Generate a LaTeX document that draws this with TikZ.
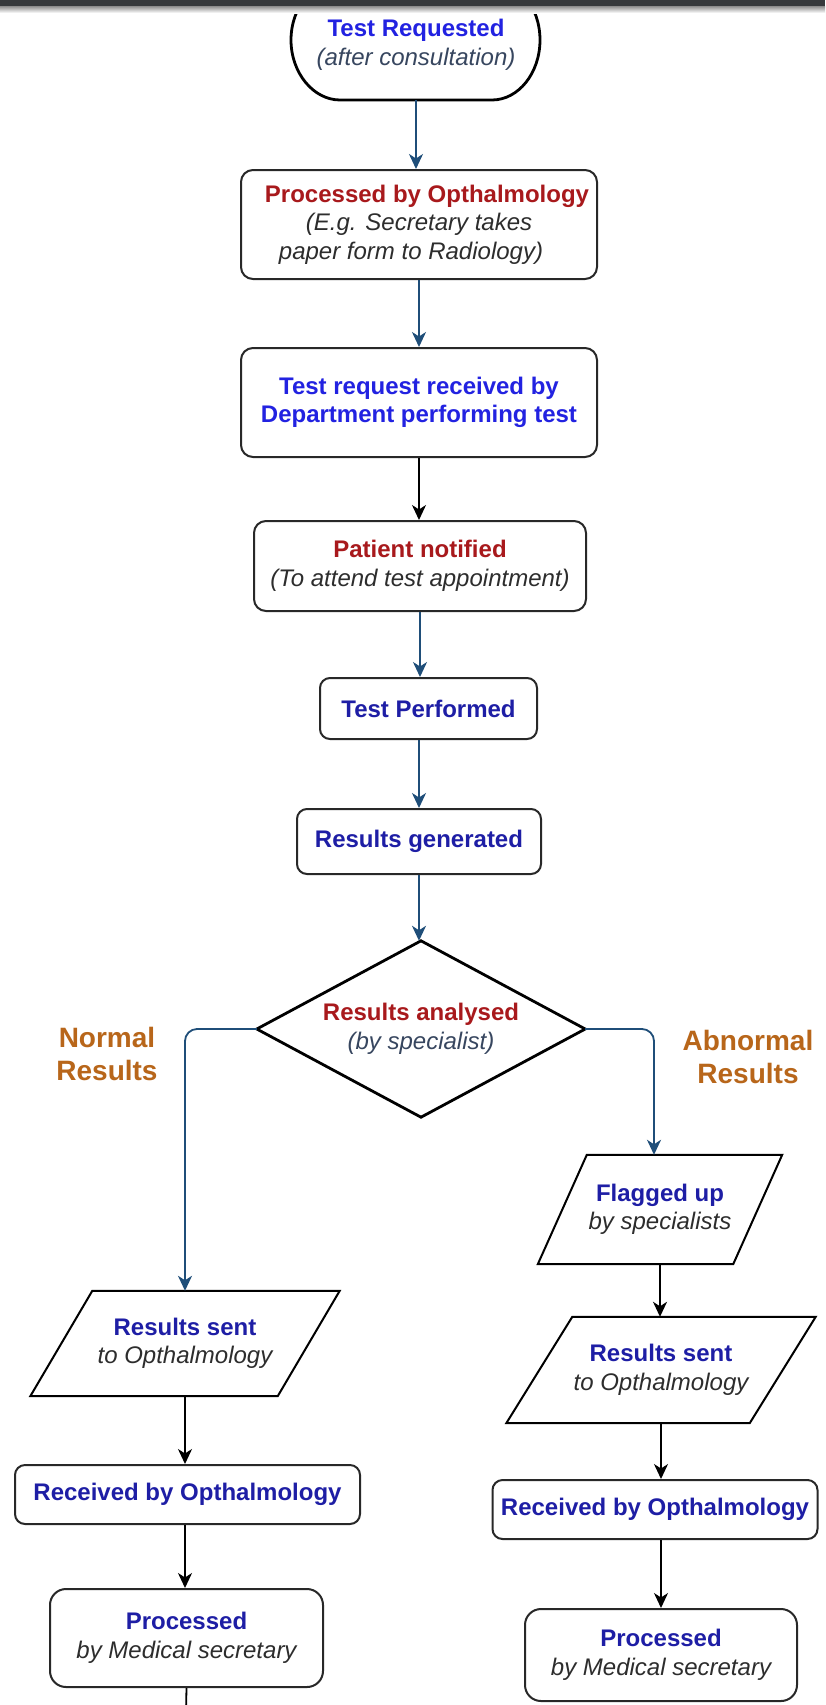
\documentclass[tikz,border=0pt]{standalone}
\usepackage{fontspec}
\setmainfont{Liberation Sans}
\usetikzlibrary{arrows.meta,calc}
\definecolor{navy}{RGB}{31,78,121}
\definecolor{tblue}{RGB}{34,34,225}
\definecolor{dblue}{RGB}{30,30,165}
\definecolor{tred}{RGB}{168,25,28}
\definecolor{tgray}{RGB}{45,45,45}
\definecolor{slate}{RGB}{55,70,95}
\definecolor{torange}{RGB}{184,102,26}
\definecolor{bord}{RGB}{40,40,40}
\definecolor{topbar}{RGB}{54,57,60}
\newcommand{\tit}[2]{{\bfseries\color{#1}#2}}
\newcommand{\sub}[2]{{\itshape\color{#1}#2}}
\tikzset{
  base/.style={font=\fontsize{24}{28.5}\selectfont, align=center, inner sep=0pt},
  rbox/.style={base, draw=bord, line width=2pt, rounded corners=12pt, fill=white},
  para/.style={base},
  parline/.style={draw=black, line width=2pt},
  tip/.style={-{Stealth[length=15pt,width=14pt,inset=4.5pt]}},
  nav/.style={draw=navy, line width=1.8pt, tip},
  blk/.style={draw=black, line width=1.8pt, tip},
  lbl/.style={font=\fontsize{28}{33}\selectfont\bfseries, text=torange, align=center, inner sep=0pt}
}
\begin{document}
\begin{tikzpicture}[x=1pt,y=-1pt]
\useasboundingbox (0,0) rectangle (825,1705);
\clip (0,0) rectangle (825,1705);
\fill[white] (0,0) rectangle (825,1705);

% terminal
\node[base, minimum width=249pt, minimum height=110pt] (start) at (416,45)
  {\tit{tblue}{Test Requested}\\\sub{slate}{(after consultation)}};
\draw[black, line width=2.8pt] (340,100) -- (492,100)
  .. controls (518.5,100) and (540,73) .. (540,40)
  .. controls (540,7) and (518.5,-20) .. (492,-20)
  -- (340,-20)
  .. controls (313.5,-20) and (291,7) .. (291,40)
  .. controls (291,73) and (313.5,100) .. (340,100) -- cycle;

% top bar
\fill[topbar] (0,0) rectangle (825,6);
\shade[top color=black!45, bottom color=white] (0,6) rectangle (825,13);

% main column
\node[rbox, minimum width=356pt, minimum height=109pt] (proc1) at (419,224.5)
  {\hspace*{16pt}\tit{tred}{Processed by Opthalmology}\\
   \sub{tgray}{(E.g. Secretary takes}\hspace*{16pt}\\
   \sub{tgray}{paper form to Radiology)}\hspace*{16pt}};
\node[rbox, minimum width=356pt, minimum height=109pt] (recv) at (419,402.5)
  {\tit{tblue}{Test request received by}\\\tit{tblue}{Department performing test}};
\node[rbox, minimum width=332pt, minimum height=90pt] (notif) at (420,566)
  {\tit{tred}{Patient notified}\\\sub{tgray}{(To attend test appointment)}};
\node[rbox, rounded corners=10pt, minimum width=217pt, minimum height=61pt] (perf) at (428.5,708.5)
  {\tit{dblue}{Test Performed}};
\node[rbox, rounded corners=10pt, minimum width=244pt, minimum height=65pt] (resgen) at (419,841.5)
  {\tit{dblue}{Results generated}};

% decision
\node[base, minimum width=328pt, minimum height=176pt] (dia) at (421,1029)
  {\tit{tred}{Results analysed}\\\sub{slate}{(by specialist)}};
\draw[black, line width=2.8pt, line join=miter] (dia.north) -- (dia.east) -- (dia.south) -- (dia.west) -- cycle;

% branch labels
\node[lbl] (normal) at (107,1054) {Normal\\Results};
\node[lbl] (abnormal) at (748,1057) {Abnormal\\Results};

% left branch
\node[para, minimum width=247pt, minimum height=105pt] (lsent) at (185,1343.5)
  {\tit{dblue}{Results sent}\\\sub{tgray}{to Opthalmology}};
\draw[parline] ($(lsent.north west)+(31,0)$) -- ($(lsent.north east)+(31,0)$)
  -- ($(lsent.south east)+(-31,0)$) -- ($(lsent.south west)+(-31,0)$) -- cycle;
\node[rbox, rounded corners=10pt, minimum width=345pt, minimum height=59pt] (lrecv) at (187.5,1494.5)
  {\tit{dblue}{Received by Opthalmology}};
\node[rbox, rounded corners=16pt, minimum width=273pt, minimum height=98pt] (lproc) at (186.5,1638)
  {\tit{dblue}{Processed}\\\sub{tgray}{by Medical secretary}};

% right branch
\node[para, minimum width=195pt, minimum height=109pt] (flag) at (660,1209.5)
  {\tit{dblue}{Flagged up}\\\sub{tgray}{by specialists}};
\draw[parline] ($(flag.north west)+(24.5,0)$) -- ($(flag.north east)+(24.5,0)$)
  -- ($(flag.south east)+(-24.5,0)$) -- ($(flag.south west)+(-24.5,0)$) -- cycle;
\node[para, minimum width=243pt, minimum height=106pt] (rsent) at (661,1370)
  {\tit{dblue}{Results sent}\\\sub{tgray}{to Opthalmology}};
\draw[parline] ($(rsent.north west)+(33,0)$) -- ($(rsent.north east)+(33,0)$)
  -- ($(rsent.south east)+(-33,0)$) -- ($(rsent.south west)+(-33,0)$) -- cycle;
\node[rbox, rounded corners=10pt, minimum width=325pt, minimum height=59pt] (rrecv) at (655,1509.5)
  {\tit{dblue}{Received by Opthalmology}};
\node[rbox, rounded corners=16pt, minimum width=272pt, minimum height=92pt] (rproc) at (661,1655)
  {\tit{dblue}{Processed}\\\sub{tgray}{by Medical secretary}};

% connectors
\draw[nav] (start.south) -- (start.south |- proc1.north);
\draw[nav] (proc1.south) -- (recv.north);
\draw[blk] (recv.south) -- (recv.south |- notif.north);
\draw[nav] (notif.south) -- (notif.south |- perf.north);
\draw[nav] (resgen.north |- perf.south) -- (resgen.north);
\draw[nav] (resgen.south) -- (resgen.south |- dia.north);
\draw[nav, rounded corners=12pt] (dia.west) -| (lsent.north);
\draw[nav, rounded corners=12pt] (dia.east) -| ([xshift=-6pt]flag.north);
\draw[blk] (flag.south) -- (flag.south |- rsent.north);
\draw[blk] (rsent.south) -- (rsent.south |- rrecv.north);
\draw[blk] (rsent.south |- rrecv.south) -- (rsent.south |- rproc.north);
\draw[blk] (lsent.south) -- (lsent.south |- lrecv.north);
\draw[blk] (lsent.south |- lrecv.south) -- (lsent.south |- lproc.north);
\coordinate (lend) at (186,1712);
\draw[black, line width=1.8pt] (lproc.south) -- (lend);
\end{tikzpicture}
\end{document}
